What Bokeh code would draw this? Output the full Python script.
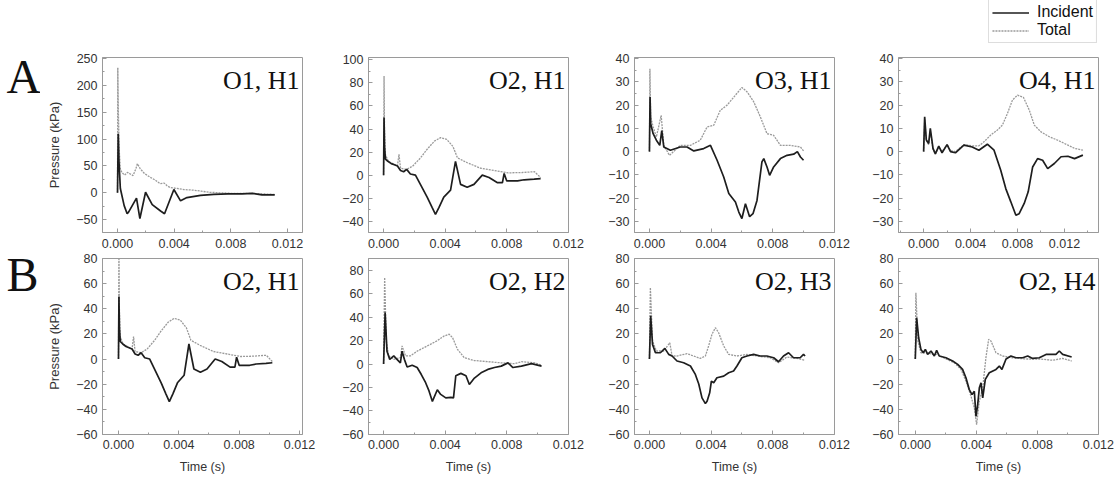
from bokeh.plotting import figure
from bokeh.models import Range1d, FixedTicker, NumeralTickFormatter, Label, Legend, LegendItem, Spacer
from bokeh.core.properties import value
from bokeh.layouts import column, row
from bokeh.embed import file_html
from bokeh.resources import INLINE

# ---------------- data (time in s, pressure in kPa) ----------------
a1_inc_t = [0, 0.00005, 0.0001, 0.0002, 0.00047, 0.00068, 0.00078, 0.00104, 0.00134, 0.00158, 0.00198,
            0.00245, 0.00304, 0.00332, 0.00398, 0.00445, 0.0049, 0.00586, 0.0068, 0.0078, 0.0088, 0.0095,
            0.0102, 0.0111]
a1_inc_p = [0, 110, 60, 8, -24, -39, -36, -24, -10, -48, 1, -22, -34, -39, 6, -15, -9, -5, -3, -2, -2, -1, -4, -4]
a1_tot_t = [0, 0.00002, 0.00006, 0.00012, 0.0002, 0.0003, 0.0005, 0.0007, 0.0009, 0.0011, 0.0013, 0.0014,
            0.0016, 0.0019, 0.0023, 0.0027, 0.003, 0.0033, 0.0035, 0.0037, 0.0042, 0.0047, 0.0053, 0.0059,
            0.0065, 0.0072, 0.008, 0.0088, 0.0095, 0.0102, 0.0111]
a1_tot_p = [0, 233, 150, 80, 45, 38, 33, 38, 35, 32, 45, 54, 45, 36, 29, 23, 17, 18, 13, 10, 8, 6, 5, 3, 1, 0,
            -1, -1, -1, -2, -3]

o2h1_inc_t = [0, 0.00003, 0.00006, 0.00012, 0.00028, 0.0005, 0.0007, 0.0009, 0.0011, 0.0013, 0.0015, 0.00174,
              0.00207, 0.00239, 0.00283, 0.00315, 0.00337, 0.0036, 0.00391, 0.00413, 0.00435, 0.00467, 0.005,
              0.00543, 0.00587, 0.00641, 0.00685, 0.0074, 0.00772, 0.00783, 0.008, 0.0087, 0.00913, 0.00978,
              0.0102]
o2h1_inc_p = [0, 50, 25, 14, 12, 10, 9, 8, 4, 3, 5, 1, 0, -8, -19, -28, -34, -28, -19, -16, -13, 12, -8, -10.5,
              -8, 0, -2, -6.5, -6.5, 1.5, -5, -5, -4, -3.5, -3]
o2h1_tot_t = [0, 0.00003, 0.00006, 0.00012, 0.0003, 0.0006, 0.0009, 0.001, 0.0011, 0.0015, 0.0019, 0.0024,
              0.0028, 0.0033, 0.0037, 0.0041, 0.0045, 0.0048, 0.0054, 0.0063, 0.0072, 0.0081, 0.009, 0.0098,
              0.0102]
o2h1_tot_p = [0, 86, 40, 18, 12, 10, 8, 18, 6, 5, 8, 15, 22, 29.5, 32.5, 31, 25, 15, 11, 6, 4, 2, 2.3, 3, -2]

a3_inc_t = [0, 0.00004, 0.00008, 0.00024, 0.00045, 0.00067, 0.0008, 0.00093, 0.00136, 0.002, 0.00244, 0.00288,
            0.00352, 0.00396, 0.00439, 0.00482, 0.00515, 0.00558, 0.0058, 0.006, 0.00623, 0.0065, 0.00672,
            0.00698, 0.0073, 0.00742, 0.00763, 0.0078, 0.00806, 0.0085, 0.00893, 0.00936, 0.0096, 0.0098, 0.01]
a3_inc_p = [0, 23.5, 12, 7.7, 4.9, 2.7, 9, 2, 0.6, 2, 2, 0.3, 1.3, 2.7, -3.7, -10.9, -18, -21.7, -26, -28.8,
            -22.4, -28, -26.7, -21, -4.4, -3, -6.6, -10.2, -6.6, -3, -1.6, -1.1, 0, -2.3, -3.7]
a3_tot_t = [0, 0.00003, 0.00008, 0.00024, 0.00045, 0.00076, 0.00093, 0.0013, 0.002, 0.00266, 0.0033, 0.00374,
            0.00417, 0.0046, 0.00504, 0.00558, 0.006, 0.00634, 0.00677, 0.0072, 0.00763, 0.00806, 0.0085,
            0.00915, 0.0098, 0.01]
a3_tot_p = [0, 35.7, 15, 10.6, 6.3, 15.6, 2.7, -1.6, 2.7, 2.7, 4.9, 10.6, 11.3, 17.8, 20, 24.3, 27.6, 25.7,
            21.4, 14.9, 7.7, 7, 2.7, 2.7, 2, 0.3]

a4_inc_t = [0, 0.00009, 0.00023, 0.00043, 0.00057, 0.0008, 0.001, 0.00129, 0.00157, 0.002, 0.00229, 0.00271,
            0.00343, 0.00414, 0.00471, 0.00543, 0.006, 0.00657, 0.007, 0.00743, 0.00786, 0.00814, 0.00857,
            0.00891, 0.00929, 0.00971, 0.01014, 0.01057, 0.01114, 0.01171, 0.01229, 0.01286, 0.01357]
a4_inc_p = [0, 15, 5, 3.5, 10, 1.4, -1, 2.4, -0.5, 3, 0, -0.5, 2.8, 2, 0.6, 3.2, 0.6, -8, -15.9, -21.6, -27.4,
            -26.7, -22.3, -17.3, -6.6, -3, -3.7, -7.3, -5.1, -2.2, -2, -3, -1.5]
a4_tot_t = [0, 0.00009, 0.00023, 0.00043, 0.00057, 0.0008, 0.001, 0.00129, 0.00157, 0.002, 0.00229, 0.00271,
            0.00343, 0.00414, 0.00471, 0.00514, 0.00571, 0.00629, 0.00671, 0.00714, 0.00757, 0.008, 0.00851,
            0.009, 0.00943, 0.01, 0.01071, 0.01143, 0.01229, 0.01286, 0.01357]
a4_tot_p = [0, 14, 5, 3, 9, 1, -1, 2, 0, 3, 0.5, 0, 3, 2.5, 2.5, 4.2, 7.1, 9.3, 11.4, 16.4, 22.2, 24.3, 23.3,
            17.9, 11.4, 8.5, 6.4, 4.9, 2.8, 1.4, 0.6]

b2_inc_t = [0, 0.0001, 0.00022, 0.0004, 0.00066, 0.00087, 0.00109, 0.0012, 0.00135, 0.00153, 0.00186, 0.00218,
            0.00245, 0.00273, 0.00295, 0.00317, 0.00349, 0.00371, 0.00404, 0.00437, 0.00454, 0.00469, 0.00502,
            0.00535, 0.00557, 0.0059, 0.00633, 0.00677, 0.0072, 0.00764, 0.00808, 0.0084, 0.00895, 0.00961,
            0.01026]
b2_inc_p = [0, 44, 11, 4, 7, 4, 1, 11, 4, -2.6, -1, -3, -9, -16, -23, -32, -22, -26, -29, -28.5, -29, -10, -8,
            -10, -17.5, -12, -7.5, -4.6, -3, -1.8, 1, -3, -1.8, 0.3, -1.8]
b2_tot_t = [0, 0.00007, 0.00017, 0.00033, 0.00066, 0.00109, 0.0012, 0.00142, 0.00175, 0.00218, 0.00262,
            0.00306, 0.00349, 0.00393, 0.00426, 0.00448, 0.0048, 0.00524, 0.0059, 0.00677, 0.00764, 0.0085,
            0.00895, 0.00983, 0.01026]
b2_tot_p = [0, 74, 20, 7, 4, 5.4, 15.5, 7, 7, 11, 14, 17, 20, 24, 25.5, 22.6, 12.6, 5.4, 3, 2, 1, 0.3, 2, 1, -1]

b3_inc_t = [0, 0.00008, 0.0002, 0.00039, 0.00071, 0.001, 0.00125, 0.00147, 0.00179, 0.00222, 0.00266, 0.00298,
            0.0032, 0.00341, 0.00363, 0.00374, 0.00391, 0.00402, 0.00417, 0.00438, 0.00482, 0.00514, 0.00546,
            0.00568, 0.006, 0.00633, 0.00676, 0.00719, 0.00762, 0.00806, 0.00838, 0.0087, 0.00903, 0.00935,
            0.00978, 0.01, 0.0101]
b3_inc_p = [0, 34.5, 11.7, 5, 5, 8.5, 3.7, 2.4, -1.6, -3, -5.6, -12.3, -20, -31, -35.6, -33.7, -27, -17.7, -19,
            -15, -13.7, -11, -9.6, -5.6, 1, 2.4, 3.7, 2.4, 2.4, 1, -2.2, 2.4, 5, 1, 1, 3.7, 2.4]
b3_tot_t = [0, 0.00006, 0.0002, 0.00045, 0.00093, 0.00132, 0.00147, 0.00179, 0.00244, 0.00287, 0.0033, 0.00363,
            0.00384, 0.00406, 0.00428, 0.00449, 0.00482, 0.00514, 0.00568, 0.00633, 0.00698, 0.00784, 0.00838,
            0.00892, 0.00957, 0.0101]
b3_tot_p = [0, 57, 14.4, 6.4, 6.4, 13, 2.4, 2.4, 4.3, 2.4, 0.5, 2.4, 10.4, 19.8, 25, 21, 10.4, 3.7, 2.4, 3.7,
            2.4, 1, -3, 1.6, 0.5, -1]

b4_inc_t = [0, 0.00009, 0.00022, 0.00037, 0.00052, 0.00066, 0.00081, 0.00103, 0.00125, 0.0014, 0.00157,
            0.00201, 0.00245, 0.00278, 0.0031, 0.00332, 0.00354, 0.00372, 0.00387, 0.00398, 0.00409, 0.0042,
            0.00431, 0.00442, 0.00459, 0.00485, 0.00529, 0.00551, 0.00568, 0.00595, 0.00627, 0.0066, 0.00704,
            0.00737, 0.00769, 0.00813, 0.00857, 0.00922, 0.00944, 0.00966, 0.01025]
b4_inc_p = [0, 33, 17, 7.7, 5, 7.7, 3.7, 6.4, 2.4, 6.9, 2.4, 1, -1.6, -4.3, -8.3, -15, -24.4, -28.4, -25.7,
            -45.8, -36.6, -23, -19, -31, -16.3, -11, -8.3, -5.6, -8.3, 0, 2.4, 1, 1, 2.4, 0.5, 1, 3.7, 3.7,
            6.4, 3.7, 1.6]
b4_tot_t = [0, 0.00004, 0.00017, 0.00037, 0.0007, 0.00114, 0.00146, 0.00201, 0.00256, 0.003, 0.00332, 0.00365,
            0.00387, 0.00402, 0.0042, 0.00442, 0.00463, 0.00481, 0.00496, 0.00529, 0.00573, 0.00638, 0.00726,
            0.00813, 0.00901, 0.00966, 0.01025]
b4_tot_p = [0, 53, 14.4, 5, 5, 3.7, 3.7, 0, -3, -8.3, -17.7, -29.7, -39, -52.5, -33.7, -23, 1, 15.8, 14.4, 5,
            2.4, 1, 0, 0, -1, 0.5, -1.6]

panel_titles = ["O1, H1", "O2, H1", "O3, H1", "O4, H1", "O2, H1", "O2, H2", "O2, H3", "O2, H4"]
row_letters = ["A", "B"]
series_names = ["Incident", "Total"]
x_tick_values = [0.0, 0.004, 0.008, 0.012]
y_ticks_a1 = [-50, 0, 50, 100, 150, 200, 250]
y_ticks_a2 = [-40, -20, 0, 20, 40, 60, 80, 100]
y_ticks_a34 = [-30, -20, -10, 0, 10, 20, 30, 40]
y_ticks_b = [-60, -40, -20, 0, 20, 40, 60, 80]

panel_data = [
    (a1_inc_t, a1_inc_p, a1_tot_t, a1_tot_p),
    (o2h1_inc_t, o2h1_inc_p, o2h1_tot_t, o2h1_tot_p),
    (a3_inc_t, a3_inc_p, a3_tot_t, a3_tot_p),
    (a4_inc_t, a4_inc_p, a4_tot_t, a4_tot_p),
    (o2h1_inc_t, o2h1_inc_p, o2h1_tot_t, o2h1_tot_p),
    (b2_inc_t, b2_inc_p, b2_tot_t, b2_tot_p),
    (b3_inc_t, b3_inc_p, b3_tot_t, b3_tot_p),
    (b4_inc_t, b4_inc_p, b4_tot_t, b4_tot_p),
]
panel_yticks = [y_ticks_a1, y_ticks_a2, y_ticks_a34, y_ticks_a34, y_ticks_b, y_ticks_b, y_ticks_b, y_ticks_b]

# ---------------- layout / style ----------------
x_ranges = [(-0.00106, 0.01306), (-0.00098, 0.01201), (-0.00097, 0.01201), (-0.00214, 0.0149),
            (-0.00106, 0.0122), (-0.00098, 0.01201), (-0.00097, 0.01201), (-0.0011, 0.01201)]
y_ranges = [(-74, 252), (-49.7, 102), (-34.8, 40.5), (-34.8, 40.5),
            (-60.3, 80.3), (-60.3, 90.3), (-60.3, 80.3), (-60.3, 80.3)]
LETTER_W = 40
col_left = [62, 50, 50, 48]
col_right = [16, 16, 16, 16]
FRAME_W = 200
STRIP_H = 44
row_top = [13, 6]
row_frame_h = [175, 176]
row_bottom = [20, 44]
letter_pos = [(6, 22), (6, 20.5)]   # letter anchor in each letter canvas's own units

FRAME_COLOR = "#9a9a9a"
TEXT_COLOR = "#333333"
SANS = "Liberation Sans"
SERIF = "Liberation Serif"
INC_STYLE = dict(line_color="#1e1e1e", line_width=1.7)
TOT_STYLE = dict(line_color="#9a9a9a", line_width=1.3, line_dash="2 1")


def half_steps(ticks):
    step = ticks[1] - ticks[0]
    return [t + step / 2 for t in [ticks[0] - step] + ticks]


def blank_fig(w, h, xr, yr):
    f = figure(width=w, height=h, output_backend="svg", toolbar_location=None, title=None,
               x_axis_type=None, y_axis_type=None, x_range=xr, y_range=yr,
               min_border_left=0, min_border_right=0, min_border_top=0, min_border_bottom=0)
    f.grid.visible = False
    f.outline_line_color = None
    f.background_fill_color = "white"
    f.border_fill_color = "white"
    return f


figs = []
for i in range(8):
    r, c = divmod(i, 4)
    w = col_left[c] + FRAME_W + col_right[c]
    h = row_top[r] + row_frame_h[r] + row_bottom[r]
    x0, x1 = x_ranges[i]
    y0, y1 = y_ranges[i]
    p = figure(width=w, height=h, output_backend="svg", toolbar_location=None, title=None,
               x_range=Range1d(x0, x1), y_range=Range1d(y0, y1),
               min_border_left=col_left[c], min_border_right=col_right[c],
               min_border_top=row_top[r], min_border_bottom=row_bottom[r])
    p.grid.visible = False
    p.background_fill_color = "white"
    p.border_fill_color = "white"
    p.outline_line_color = FRAME_COLOR
    p.outline_line_width = 1

    inc_t, inc_p, tot_t, tot_p = panel_data[i]
    p.line(tot_t, tot_p, **TOT_STYLE)
    p.line(inc_t, inc_p, **INC_STYLE)

    for ax in (p.xaxis[0], p.yaxis[0]):
        ax.axis_line_color = FRAME_COLOR
        ax.major_tick_line_color = FRAME_COLOR
        ax.minor_tick_line_color = FRAME_COLOR
        ax.major_tick_in = 4
        ax.major_tick_out = 0
        ax.minor_tick_in = 2
        ax.minor_tick_out = 0
        ax.major_label_text_font = SANS
        ax.major_label_text_font_size = "12.5px"
        ax.major_label_text_color = TEXT_COLOR
        ax.axis_label_text_font = SANS
        ax.axis_label_text_font_style = "normal"
        ax.axis_label_text_color = TEXT_COLOR

    p.xaxis.ticker = FixedTicker(ticks=x_tick_values, minor_ticks=half_steps(x_tick_values))
    p.xaxis.formatter = NumeralTickFormatter(format="0.000")
    p.xaxis.major_label_standoff = 6 if r == 0 else 5
    yt = panel_yticks[i]
    p.yaxis.ticker = FixedTicker(ticks=yt, minor_ticks=half_steps(yt))
    p.yaxis.major_label_standoff = 5

    if r == 1:
        p.xaxis.axis_label = "Time (s)"
        p.xaxis.axis_label_text_font_size = "12.5px"
        p.xaxis.axis_label_standoff = 8
    if c == 0:
        p.yaxis.axis_label = "Pressure (kPa)"
        p.yaxis.axis_label_text_font_size = "13px"
        p.yaxis.axis_label_standoff = 11

    p.add_layout(Label(x=x1, y=y1, x_units="data", y_units="data", text=panel_titles[i],
                       text_font=SERIF, text_font_size="26px", text_color="#111111",
                       text_align="right", text_baseline="top", x_offset=-3, y_offset=-8))
    figs.append(p)

# row letters, each in its own narrow blank canvas
letters = []
for r in range(2):
    h = row_top[r] + row_frame_h[r] + row_bottom[r]
    lf = blank_fig(LETTER_W, h, Range1d(0, LETTER_W), Range1d(h, 0))
    lx, ly = letter_pos[r]
    lf.text(x=[lx], y=[ly], text=[row_letters[r]], text_font=value(SERIF),
            text_font_size="48px", text_color="#111111", text_align="left", text_baseline="alphabetic")
    letters.append(lf)

# legend strip: the legend's lines use the A4 series, kept out of this blank canvas's view
LEG_W = 110
leg_fig = blank_fig(LEG_W, STRIP_H, Range1d(-2, -1), Range1d(0, 1))
r_inc = leg_fig.line(a4_inc_t, a4_inc_p, **INC_STYLE)
r_tot = leg_fig.line(a4_tot_t, a4_tot_p, **TOT_STYLE)
legend = Legend(items=[LegendItem(label=series_names[0], renderers=[r_inc]),
                       LegendItem(label=series_names[1], renderers=[r_tot])],
                location="bottom_right", orientation="vertical",
                label_text_font=SANS, label_text_font_size="16px", label_text_color="#111111",
                glyph_width=37, glyph_height=17, label_height=17, spacing=0,
                padding=3, margin=1, label_standoff=8,
                border_line_color="#bbbbbb", background_fill_color="white")
leg_fig.add_layout(legend)

total_w = LETTER_W + sum(col_left[c] + FRAME_W + col_right[c] for c in range(4))
strip = row(Spacer(width=total_w - LEG_W - 16, height=STRIP_H), leg_fig)
layout = column(strip,
                row(letters[0], *figs[:4]),
                row(letters[1], *figs[4:]))
open("out.html", "w").write(file_html(layout, INLINE))
